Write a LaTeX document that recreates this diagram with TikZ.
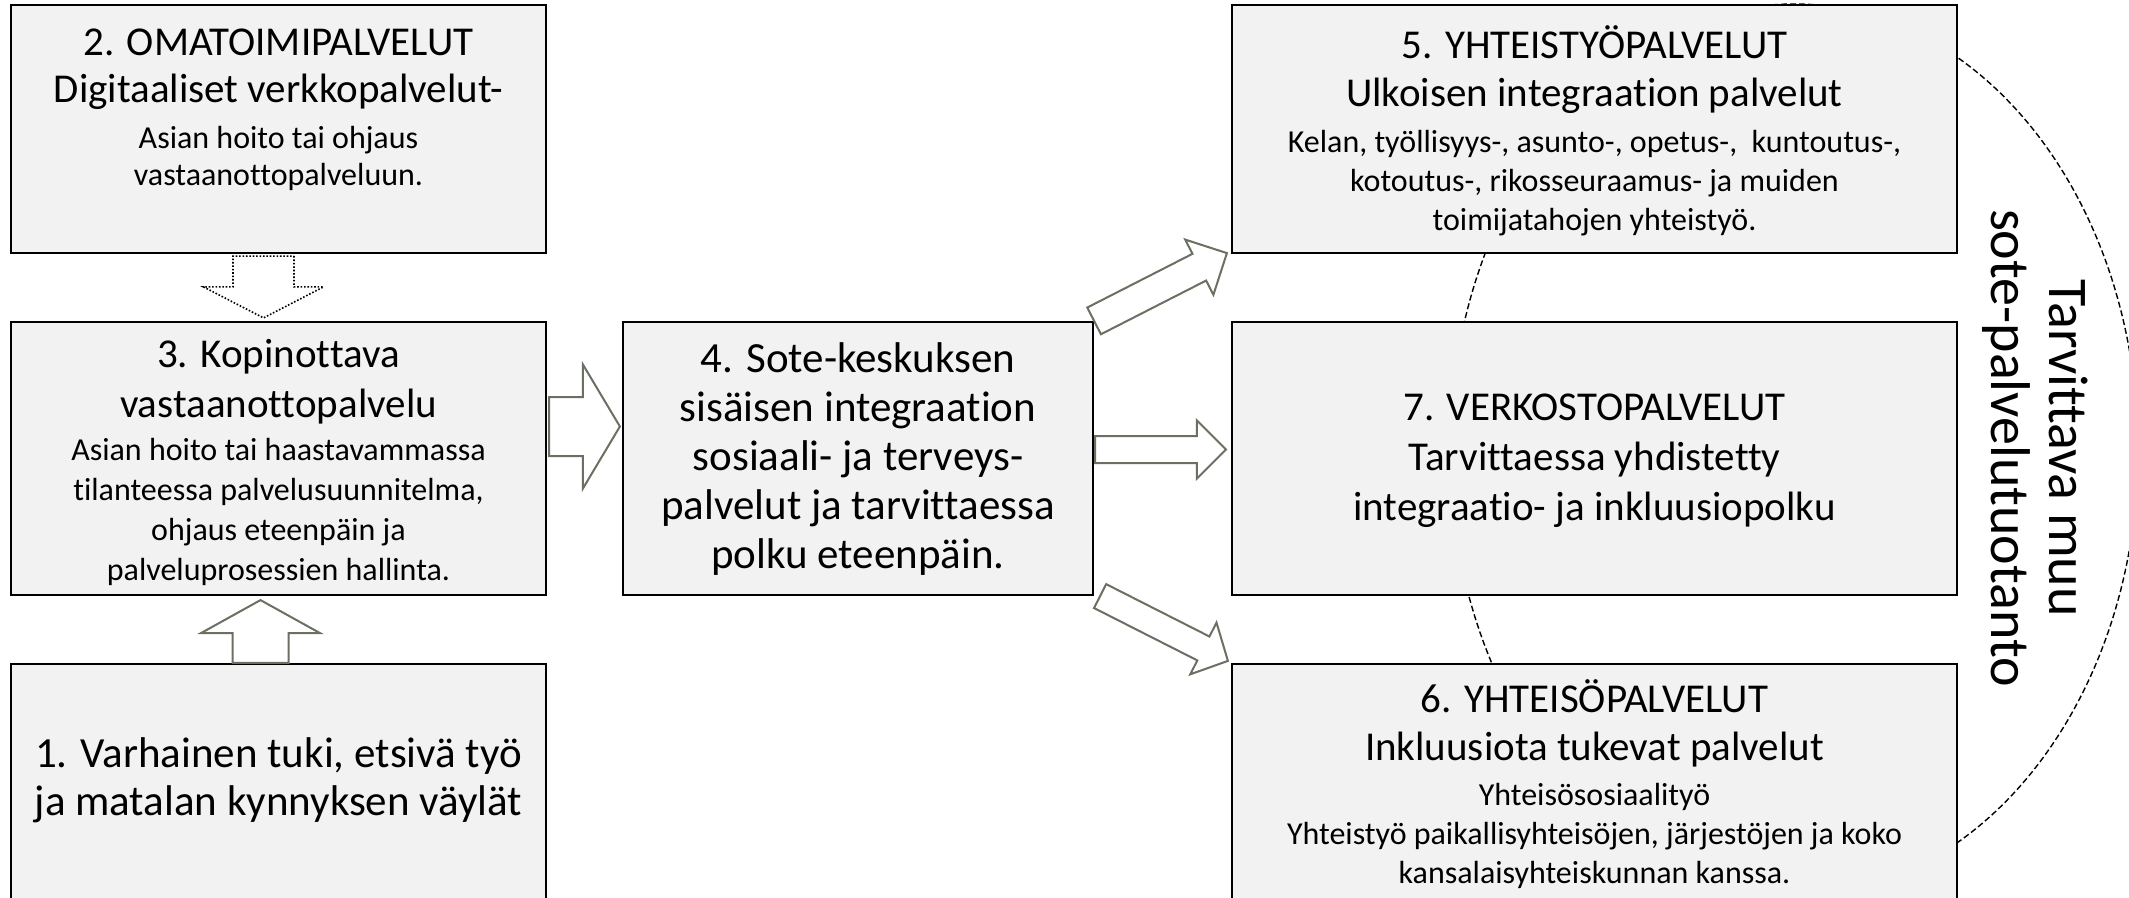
\documentclass[tikz,border=0pt]{standalone}
\usepackage{fontspec}
\setmainfont{Carlito}[Ligatures=NoCommon]
\usetikzlibrary{calc,shapes.geometric}

\definecolor{panelfill}{RGB}{242,242,242}
\definecolor{arrowgray}{RGB}{106,112,98}

% text sizes (1 px of the drawing grid = 0.5pt)
\newcommand{\bigtxt}[1][24.5pt]{\fontsize{20.5}{#1}\selectfont}
\newcommand{\smalltxt}[1][19.5pt]{\fontsize{16}{#1}\selectfont}
% centred block of lines whose reference point is the first baseline
\newcommand{\lineblock}[1]{\parbox[t]{380pt}{\centering #1\par}}

% block arrow from #1 (tail centre) to #2 (tip):
% #3 half shaft width, #4 half head width, #5 head length, #6 style
\newcommand{\blockarrow}[6]{%
  \coordinate (ba-j) at ($(#2)!#5!(#1)$);
  \draw[#6] ($(#1)!#3!90:(#2)$) -- ($(ba-j)!#3!90:(#2)$) -- ($(ba-j)!#4!90:(#2)$)
    -- (#2) -- ($(ba-j)!#4!-90:(#2)$) -- ($(ba-j)!#3!-90:(#2)$)
    -- ($(#1)!#3!-90:(#2)$) -- cycle;}

\begin{document}
\begin{tikzpicture}[x=0.5pt,y=-0.5pt,
  panel/.style={draw=black, line width=1.1pt, fill=panelfill, rectangle, inner sep=0pt},
  txt/.style={inner sep=0pt, anchor=base},
  outlinearrow/.style={draw=arrowgray, line width=1pt, fill=white, line join=miter},
  dottedarrow/.style={draw=black, line width=0.8pt, fill=white, dash pattern=on 0.8pt off 0.9pt},
  ring/.style={draw=black, line width=0.7pt, dash pattern=on 3pt off 1.5pt, ellipse, inner sep=0pt}
]
\useasboundingbox (0,0) rectangle (2129,898);
\clip (0,0) rectangle (2129,898);
\fill[white] (0,0) rectangle (2129,898);

% dashed ring behind the right-hand column
\node[ring, minimum width=344pt, minimum height=446pt] (ring) at (1794,450) {};

% panels
\node[panel, minimum width=267.5pt, minimum height=124pt]   (b2) at (278.5,129) {};
\node[panel, minimum width=267.5pt, minimum height=136.5pt] (b3) at (278.5,458.5) {};
\node[panel, minimum width=267.5pt, minimum height=133pt]   (b1) at (278.5,797) {};
\node[panel, minimum width=235pt,   minimum height=136.5pt] (b4) at (858,458.5) {};
\node[panel, minimum width=362.5pt, minimum height=124pt]   (b5) at (1594.5,129) {};
\node[panel, minimum width=362.5pt, minimum height=136.5pt] (b7) at (1594.5,458.5) {};
\node[panel, minimum width=362.5pt, minimum height=133pt]   (b6) at (1594.5,797) {};

% panel texts
\node[txt] (t2) at ($(b2.north)+(0,52)$) {\lineblock{%
  \bigtxt[23.5pt] 2. OMATOIMIPALVELUT\\Digitaaliset verkkopalvelut-\par
  \vspace{4.5pt}\smalltxt[18.5pt] Asian hoito tai ohjaus\\vastaanottopalveluun.}};
\node[txt] (t3) at ($(b3.north)+(0,47)$) {\lineblock{%
  \bigtxt[25pt] 3. Kopinottava\\vastaanottopalvelu\par
  \vspace{1.5pt}\smalltxt[20pt] Asian hoito tai haastavammassa\\tilanteessa palvelusuunnitelma,\\ohjaus eteenpäin ja\\palveluprosessien hallinta.}};
\node[txt] (t1) at ($(b1.north)+(0,105)$) {\lineblock{%
  \fontsize{21.5}{24pt}\selectfont 1. Varhainen tuki, etsivä työ\\ja matalan kynnyksen väylät}};
\node[txt] (t4) at ($(b4.north)+(0,52)$) {\lineblock{%
  \fontsize{21.5}{24.5pt}\selectfont 4. Sote-keskuksen\\sisäisen integraation\\sosiaali- ja terveys-\\palvelut ja tarvittaessa\\polku eteenpäin.}};
\node[txt] (t5) at ($(b5.north)+(0,55)$) {\lineblock{%
  \bigtxt[24pt] 5. YHTEISTYÖPALVELUT\\Ulkoisen integraation palvelut\par
  \vspace{3.5pt}\smalltxt[19.5pt] Kelan, työllisyys-, asunto-, opetus-,\ \ kuntoutus-,\\kotoutus-, rikosseuraamus- ja muiden\\toimijatahojen yhteistyö.}};
\node[txt] (t7) at ($(b7.north)+(0,100)$) {\lineblock{%
  \bigtxt[25pt] 7. VERKOSTOPALVELUT\\Tarvittaessa yhdistetty\\integraatio- ja inkluusiopolku}};
\node[txt] (t6) at ($(b6.north)+(0,50)$) {\lineblock{%
  \bigtxt[24pt] 6. YHTEISÖPALVELUT\\Inkluusiota tukevat palvelut\par
  \vspace{3pt}\smalltxt[19.5pt] Yhteisösosiaalityö\\Yhteistyö paikallisyhteisöjen, järjestöjen ja koko\\kansalaisyhteiskunnan kanssa.}};

% side caption
\node[rotate=-90, align=center, inner sep=0pt, font=\fontsize{28}{29pt}\selectfont] (side) at (2035,448)
  {Tarvittava muu\\sote-palvelutuotanto};

% arrow end points
\coordinate (a23s) at ($(b2.south)+(-15,2)$);
\coordinate (a23e) at ($(b3.north)+(-15,-3)$);
\coordinate (a13s) at ($(b1.north)+(-18,0)$);
\coordinate (a13e) at ($(b3.south)+(-18,4)$);
\coordinate (a34s) at ($(b3.east)+(2,-32)$);
\coordinate (a34e) at ($(b4.west)+(-2,-32)$);
\coordinate (a47s) at ($(b4.east)+(1,-9)$);
\coordinate (a47e) at ($(b7.west)+(-5,-9)$);
\coordinate (a45s) at (b4.north east);
\coordinate (a45e) at ($(b5.south west)+(-4,-1)$);
\coordinate (a46s) at ($(b4.south east)+(6,0)$);
\coordinate (a46e) at ($(b6.north west)+(-3,-2)$);

% arrows
\blockarrow{a23s}{a23e}{15.25pt}{30pt}{15.5pt}{dottedarrow}
\blockarrow{a13s}{a13e}{14pt}{29.75pt}{16.5pt}{outlinearrow}
\blockarrow{a34s}{a34e}{14.75pt}{31pt}{18.5pt}{outlinearrow}
\blockarrow{a47s}{a47e}{6.75pt}{14.5pt}{14.5pt}{outlinearrow}
\blockarrow{a45s}{a45e}{7.5pt}{15.5pt}{15.5pt}{outlinearrow}
\blockarrow{a46s}{a46e}{6.7pt}{14.5pt}{13.75pt}{outlinearrow}
\end{tikzpicture}
\end{document}
